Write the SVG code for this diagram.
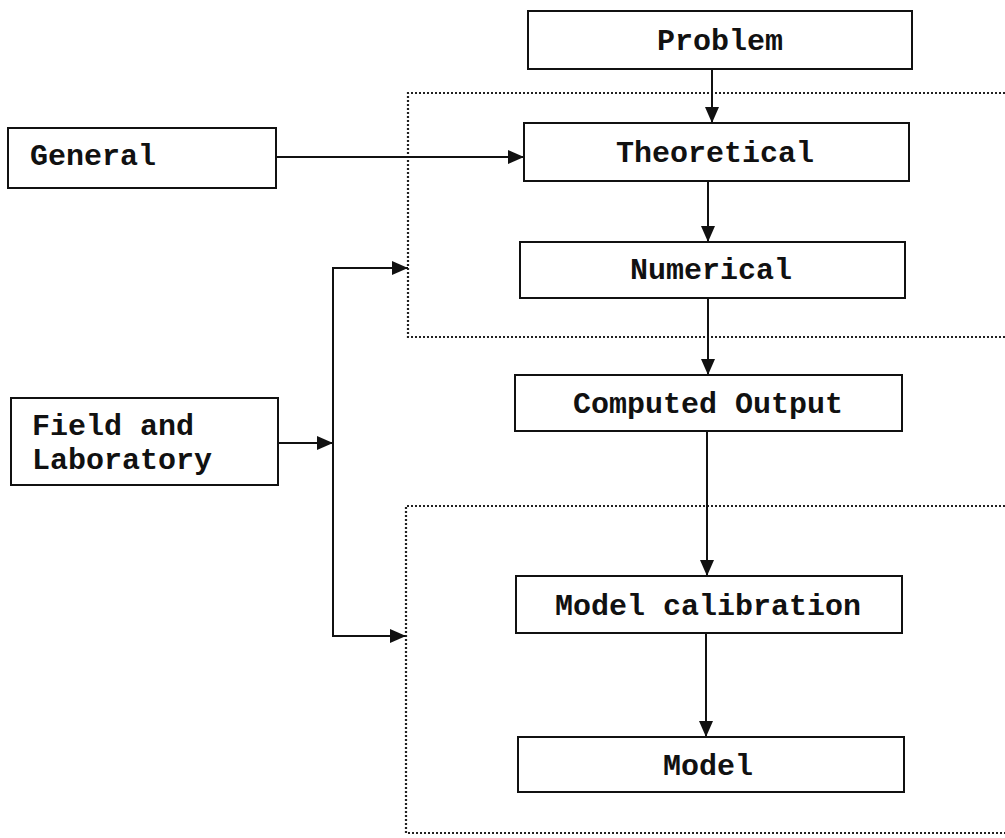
<svg xmlns="http://www.w3.org/2000/svg" width="1005" height="838" viewBox="0 0 1005 838">
<style>
.box{fill:#fff;stroke:#111;stroke-width:2}
.t{font-family:"Liberation Mono","Courier New",monospace;font-weight:bold;font-size:30px;fill:#111}
.c{text-anchor:middle}
.ln{fill:none;stroke:#111;stroke-width:2}
.dot{fill:none;stroke:#222;stroke-width:2.2;stroke-dasharray:2 2}
</style>
<defs>
<marker id="ah" markerWidth="16" markerHeight="14" refX="16" refY="7" orient="auto" markerUnits="userSpaceOnUse">
<path d="M0,0 L16,7 L0,14 Z" fill="#111"/>
</marker>
</defs>
<rect width="1005" height="838" fill="#fff"/>
<g id="regions">
<path class="dot" d="M1005,93 H408 V337 H1005"/>
<path class="dot" d="M1005,506 H406 V833 H1005"/>
</g>
<g id="connectors">
<line class="ln" x1="712" y1="69" x2="712" y2="123" marker-end="url(#ah)"/>
<line class="ln" x1="276" y1="157" x2="524" y2="157" marker-end="url(#ah)"/>
<line class="ln" x1="708" y1="181" x2="708" y2="242" marker-end="url(#ah)"/>
<line class="ln" x1="708" y1="298" x2="708" y2="375" marker-end="url(#ah)"/>
<line class="ln" x1="707" y1="431" x2="707" y2="576" marker-end="url(#ah)"/>
<line class="ln" x1="706" y1="633" x2="706" y2="737" marker-end="url(#ah)"/>
<line class="ln" x1="278" y1="443" x2="333" y2="443" marker-end="url(#ah)"/>
<line class="ln" x1="333" y1="268" x2="333" y2="636"/>
<line class="ln" x1="332" y1="268" x2="408" y2="268" marker-end="url(#ah)"/>
<line class="ln" x1="332" y1="636" x2="406" y2="636" marker-end="url(#ah)"/>
</g>
<g id="problem"><rect class="box" x="528" y="11" width="384" height="58"/><text class="t c" x="720" y="50">Problem</text></g>
<g id="general"><rect class="box" x="8" y="128" width="268" height="60"/><text class="t" x="30" y="165">General</text></g>
<g id="theoretical"><rect class="box" x="524" y="123" width="385" height="58"/><text class="t c" x="715" y="162">Theoretical</text></g>
<g id="numerical"><rect class="box" x="520" y="242" width="385" height="56"/><text class="t c" x="711" y="279">Numerical</text></g>
<g id="computed"><rect class="box" x="515" y="375" width="387" height="56"/><text class="t c" x="708" y="413">Computed Output</text></g>
<g id="field"><rect class="box" x="11" y="398" width="267" height="87"/><text class="t" x="32" y="435">Field and</text><text class="t" x="32" y="469">Laboratory</text></g>
<g id="calibration"><rect class="box" x="516" y="576" width="386" height="57"/><text class="t c" x="708" y="615">Model calibration</text></g>
<g id="model"><rect class="box" x="518" y="737" width="386" height="55"/><text class="t c" x="708" y="775">Model</text></g>
</svg>
